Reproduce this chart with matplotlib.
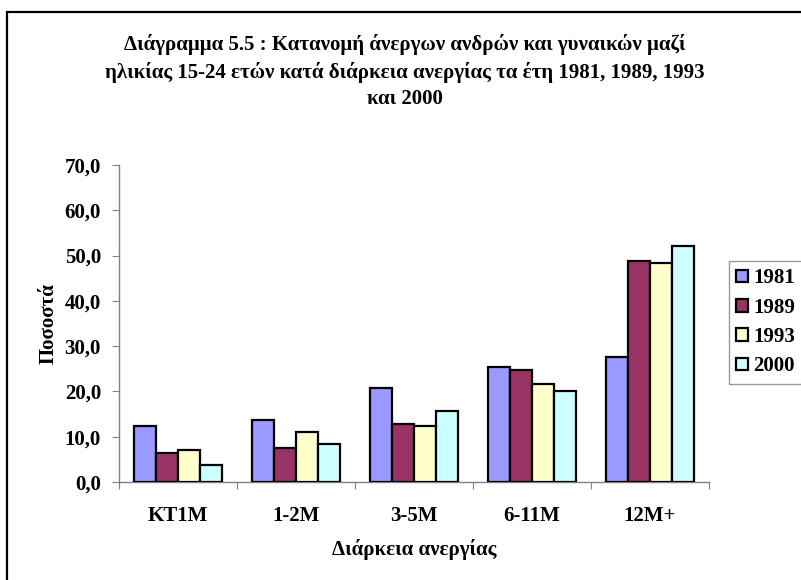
import numpy as np
import matplotlib.pyplot as plt
from matplotlib.patches import Rectangle

plt.rcParams['font.family'] = ['Liberation Serif', 'DejaVu Serif']
plt.rcParams['font.weight'] = 'bold'

categories = ["KT1M", "1-2M", "3-5M", "6-11M", "12M+"]
years = ["1981", "1989", "1993", "2000"]
v1981 = [12.4, 13.8, 20.8, 25.5, 27.5]
v1989 = [6.3, 7.4, 12.7, 24.7, 48.7]
v1993 = [7.0, 11.1, 12.4, 21.6, 48.3]
v2000 = [3.7, 8.3, 15.7, 20.0, 52.1]
colors = ["#9999FF", "#993366", "#FFFFCC", "#CCFFFF"]

fig = plt.figure(figsize=(8.01, 5.80), dpi=100)
# outer chart frame (runs off the right/bottom edge)
fig.patches.append(Rectangle((7/801, -0.1), 1.2, 1 - 12/580 + 0.1,
                             transform=fig.transFigure, fill=False,
                             edgecolor="black", linewidth=1.6))

ax = fig.add_axes([119/801, 1 - 482/580, 590/801, 317/580])

x = np.arange(len(categories))
w = 0.185
series = [v1981, v1989, v1993, v2000]
for i, (vals, c, lab) in enumerate(zip(series, colors, years)):
    ax.bar(x + (i - 1.5) * w, vals, width=w, color=c, edgecolor="black",
           linewidth=1.6, label=lab, zorder=3)

ax.set_xlim(-0.5, len(categories) - 0.5)
ax.set_ylim(0, 70)
ax.set_yticks(np.arange(0, 71, 10))
ax.set_yticklabels([f"{v:.1f}".replace(".", ",") for v in np.arange(0, 71, 10)],
                   fontsize=15, fontweight="bold")
ax.set_xticks(np.arange(-0.5, len(categories), 1))
ax.set_xticklabels([])
ax.set_xticks(x, minor=True)
ax.set_xticklabels(categories, minor=True, fontsize=15, fontweight="bold")
ax.tick_params(axis="x", which="minor", length=0, pad=17)
ax.tick_params(axis="x", which="major", length=5, color="#808080", direction="out")
ax.tick_params(axis="y", length=5, color="#808080", direction="out", pad=8)

for s in ["top", "right"]:
    ax.spines[s].set_visible(False)
for s in ["left", "bottom"]:
    ax.spines[s].set_color("#808080")
    ax.spines[s].set_linewidth(1.0)

ax.set_ylabel("Ποσοστά", fontsize=15, fontweight="bold", labelpad=4)
ax.set_xlabel("Διάρκεια ανεργίας", fontsize=15, fontweight="bold", labelpad=10)

fig.text(0.505, 1 - 34/580,
         "Διάγραμμα 5.5 : Κατανομή άνεργων ανδρών και γυναικών μαζί\n"
         "ηλικίας 15-24 ετών κατά διάρκεια ανεργίας τα έτη 1981, 1989, 1993\n"
         "και 2000",
         ha="center", va="top", fontsize=15, fontweight="bold",
         linespacing=1.42, transform=fig.transFigure)

leg = fig.legend(loc="upper left", bbox_to_anchor=(729/801, 1 - 261/580),
                 frameon=True, fancybox=False, edgecolor="#808080",
                 prop={"size": 15, "weight": "bold"}, handlelength=0.55,
                 handleheight=0.55, handletextpad=0.25, labelspacing=0.45,
                 borderpad=0.35, borderaxespad=0)
leg.get_frame().set_linewidth(1.0)

fig.savefig("out.png", dpi=100)
